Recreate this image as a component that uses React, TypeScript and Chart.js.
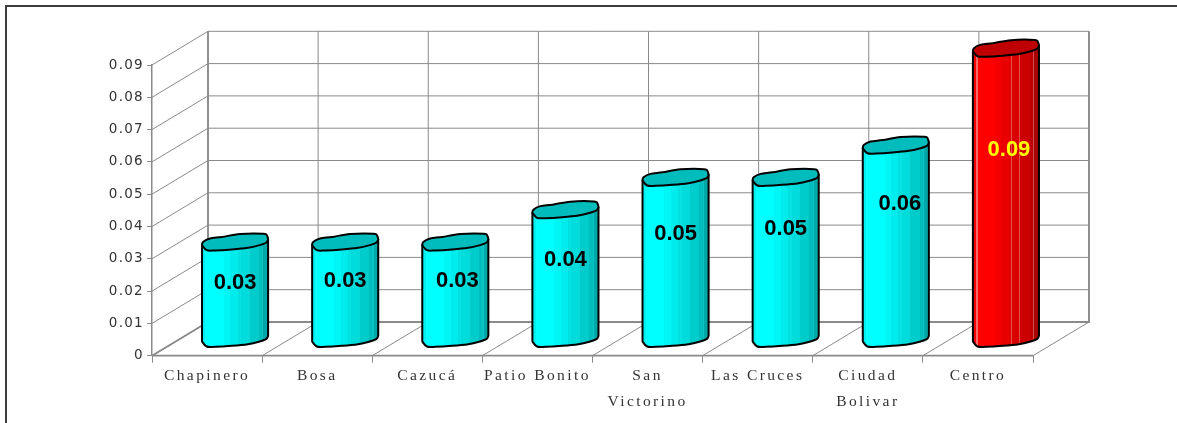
import React, { useEffect, useRef } from "react";
import { Chart, registerables } from "chart.js";

Chart.register(...registerables);

const categories = [
  "Chapinero",
  "Bosa",
  "Cazucá",
  "Patio Bonito",
  ["San", "Victorino"],
  "Las Cruces",
  ["Ciudad", "Bolivar"],
  "Centro",
];
const values = [0.03, 0.03, 0.03, 0.04, 0.05, 0.05, 0.06, 0.09];
const barColors = ["#00ffff", "#00ffff", "#00ffff", "#00ffff", "#00ffff", "#00ffff", "#00ffff", "#ff0000"];
const capColors = ["#00bcbc", "#00bcbc", "#00bcbc", "#00bcbc", "#00bcbc", "#00bcbc", "#00bcbc", "#c00000"];
const labelColors = ["#000", "#000", "#000", "#000", "#000", "#000", "#000", "#ffff00"];
const stripStrength = [0.12, 0.12, 0.12, 0.12, 0.12, 0.12, 0.12, 1];

// hand placement of the value labels in the reference, relative to the middle of each cylinder
const labelNudge = [
  [0, -7], [0, -9], [2, -9], [0, -14], [0, -24], [0, -29], [4, -38], [3, -43],
];

const DEPTH_X = 56;
const DEPTH_Y = 33.7;
const LINE = "#8a8a8a";

// shape of the skewed cap: [fraction of radius, px]
const CAP_LOWER = [[-1, 3.2], [-0.86, 8.2], [-0.6, 8.5], [-0.1, 7.5], [0.39, 5.8], [0.72, 3.4], [0.94, 0.8], [1, -2.5]];
const CAP_UPPER = [[1, -2.5], [0.97, -6], [0.86, -8.2], [0.15, -8], [-0.39, -5], [-0.76, -3.5], [-0.97, 0], [-1, 3.2]];

// band position across the cylinder, darkening factor, white strip (scaled per bar)
const BANDS = [
  [0, 0.94, 0], [0.05, 1, 0.4], [0.075, 1, 0], [0.33, 0.96, 0], [0.43, 0.92, 0], [0.54, 0.88, 0],
  [0.57, 0.88, 0.3], [0.59, 0.86, 0], [0.7, 0.84, 0.3], [0.72, 0.8, 0], [0.86, 0.74, 0],
  [0.91, 0.76, 0.3], [0.93, 0.66, 0],
];

function rgb(hex: string) {
  return [1, 3, 5].map((i) => parseInt(hex.slice(i, i + 2), 16));
}

function bandGradient(ctx: CanvasRenderingContext2D, x0: number, x1: number, color: string, strip: number) {
  const g = ctx.createLinearGradient(x0, 0, x1, 0);
  const c = rgb(color);
  BANDS.forEach(([p, f, w], i) => {
    const col = `rgb(${c.map((v) => Math.round(v * f + (255 - v * f) * w * strip)).join(",")})`;
    const next = i + 1 < BANDS.length ? BANDS[i + 1][0] : 1;
    g.addColorStop(p, col);
    g.addColorStop(next, col);
  });
  return g;
}

// curve that passes through every point of the cap outline
function trace(ctx: CanvasRenderingContext2D, pts: number[][], cx: number, cy: number, r: number, move: boolean) {
  const P = pts.map(([a, b]) => [cx + a * r, cy + b]);
  if (move) ctx.moveTo(P[0][0], P[0][1]);
  else ctx.lineTo(P[0][0], P[0][1]);
  for (let i = 0; i < P.length - 1; i++) {
    const p0 = P[Math.max(i - 1, 0)];
    const p1 = P[i];
    const p2 = P[i + 1];
    const p3 = P[Math.min(i + 2, P.length - 1)];
    ctx.bezierCurveTo(
      p1[0] + (p2[0] - p0[0]) / 6,
      p1[1] + (p2[1] - p0[1]) / 6,
      p2[0] - (p3[0] - p1[0]) / 6,
      p2[1] - (p3[1] - p1[1]) / 6,
      p2[0],
      p2[1]
    );
  }
}

const cylinderPlugin = {
  id: "cylinders",
  beforeDraw(chart: any) {
    const { ctx } = chart;
    ctx.save();
    ctx.strokeStyle = "#3c3c3c";
    ctx.lineWidth = 2;
    ctx.beginPath();
    ctx.moveTo(6, 423);
    ctx.lineTo(6, 6);
    ctx.lineTo(1177, 6);
    ctx.stroke();
    ctx.restore();
    ctx.letterSpacing = "1.3px";
  },
  beforeDatasetsDraw(chart: any) {
    const { ctx, chartArea: a, scales } = chart;
    const { x, y } = scales;
    ctx.save();
    ctx.letterSpacing = "0px";
    ctx.strokeStyle = LINE;
    ctx.lineWidth = 1;
    ctx.beginPath();
    // walls: one line per y tick, along the side wall and across the back wall
    y.ticks.forEach((t: any) => {
      const py = y.getPixelForValue(t.value);
      ctx.moveTo(a.left, py);
      ctx.lineTo(a.left + DEPTH_X, py - DEPTH_Y);
      ctx.lineTo(a.right + DEPTH_X, py - DEPTH_Y);
    });
    // floor and back wall: one line per category edge
    for (let i = 0; i <= x.ticks.length; i++) {
      const px = a.left + (i * (a.right - a.left)) / x.ticks.length;
      ctx.moveTo(px, a.bottom);
      ctx.lineTo(px + DEPTH_X, a.bottom - DEPTH_Y);
      ctx.lineTo(px + DEPTH_X, a.top - DEPTH_Y);
    }
    ctx.stroke();
    ctx.lineWidth = 1.8;
    ctx.beginPath();
    ctx.moveTo(a.left + DEPTH_X, a.top - DEPTH_Y);
    ctx.lineTo(a.left + DEPTH_X, a.bottom - DEPTH_Y);
    ctx.lineTo(a.right + DEPTH_X, a.bottom - DEPTH_Y);
    ctx.lineTo(a.right + DEPTH_X, a.top - DEPTH_Y);
    ctx.moveTo(a.left, a.bottom);
    ctx.lineTo(a.left + DEPTH_X, a.bottom - DEPTH_Y);
    ctx.moveTo(a.left, a.bottom);
    ctx.lineTo(a.right, a.bottom);
    ctx.stroke();
    ctx.restore();
  },
  beforeDatasetDraw(chart: any, args: any) {
    const { ctx } = chart;
    const ds = chart.data.datasets[args.index];
    ctx.save();
    ctx.letterSpacing = "0px";
    args.meta.data.forEach((bar: any, i: number) => {
      const { x, y, base, width } = bar.getProps(["x", "y", "base", "width"], true);
      const cx = x + DEPTH_X / 2;
      const r = width / 2;
      const capY = y - DEPTH_Y / 2;
      const baseY = base - DEPTH_Y / 2;
      ctx.lineJoin = "round";
      ctx.lineWidth = 2;
      ctx.strokeStyle = "#000";

      ctx.beginPath();
      trace(ctx, CAP_LOWER, cx, baseY, r, true);
      ctx.lineTo(cx + r, capY + CAP_LOWER[CAP_LOWER.length - 1][1]);
      ctx.lineTo(cx - r, capY + CAP_LOWER[0][1]);
      ctx.closePath();
      ctx.fillStyle = bandGradient(ctx, cx - r, cx + r, bar.options.backgroundColor, stripStrength[i]);
      ctx.fill();
      ctx.stroke();

      ctx.beginPath();
      trace(ctx, CAP_LOWER, cx, capY, r, true);
      trace(ctx, CAP_UPPER, cx, capY, r, false);
      ctx.closePath();
      ctx.fillStyle = capColors[i];
      ctx.fill();
      ctx.stroke();

      ctx.font = "bold 22px 'Liberation Sans'";
      ctx.textAlign = "center";
      ctx.textBaseline = "middle";
      ctx.fillStyle = labelColors[i];
      ctx.fillText(
        ds.data[i].toFixed(2),
        cx + labelNudge[i][0],
        (capY + baseY) / 2 + labelNudge[i][1]
      );
    });
    ctx.restore();
    return false;
  },
  afterDatasetsDraw(chart: any) {
    chart.ctx.letterSpacing = "2.4px";
  },
  afterDraw(chart: any) {
    chart.ctx.letterSpacing = "0px";
  },
};

export default function App() {
  const ref = useRef<HTMLCanvasElement>(null);
  useEffect(() => {
    const chart = new Chart(ref.current as HTMLCanvasElement, {
      type: "bar",
      data: {
        labels: categories as any,
        datasets: [
          {
            data: values,
            backgroundColor: barColors,
            barPercentage: 0.6,
            categoryPercentage: 1,
          },
        ],
      },
      options: {
        responsive: false,
        animation: false,
        devicePixelRatio: 1,
        layout: { padding: { top: 65, right: 144, left: 0, bottom: 0 } },
        plugins: { legend: { display: false }, title: { display: false }, tooltip: { enabled: false } },
        scales: {
          x: {
            afterFit(s: any) {
              s.height = 67.3;
            },
            grid: { drawOnChartArea: false, drawTicks: true, tickLength: 7, color: LINE, offset: true },
            border: { display: false },
            ticks: {
              z: 1,
              autoSkip: false,
              maxRotation: 0,
              padding: 0,
              color: "#333",
              font: { family: "'Liberation Serif'", size: 15.5, lineHeight: 26 / 15.5 },
            },
          },
          y: {
            min: 0,
            max: 0.09,
            afterFit(s: any) {
              s.width = 152;
            },
            grid: { drawOnChartArea: false, drawTicks: true, tickLength: 5, color: LINE },
            border: { display: true, color: LINE, width: 1.5 },
            ticks: {
              stepSize: 0.01,
              padding: 3,
              color: "#333",
              font: { family: "'DejaVu Sans'", size: 13.5 },
              callback: (v: any) => (Math.abs(v) < 1e-9 ? "0" : Number(v).toFixed(2)),
            },
          },
        },
      },
      plugins: [cylinderPlugin as any],
    });
    return () => chart.destroy();
  }, []);
  return (
    <canvas
      ref={ref}
      width={1177}
      height={423}
      style={{ position: "fixed", left: 0, top: 0, width: 1177, height: 423, display: "block" }}
    />
  );
}
